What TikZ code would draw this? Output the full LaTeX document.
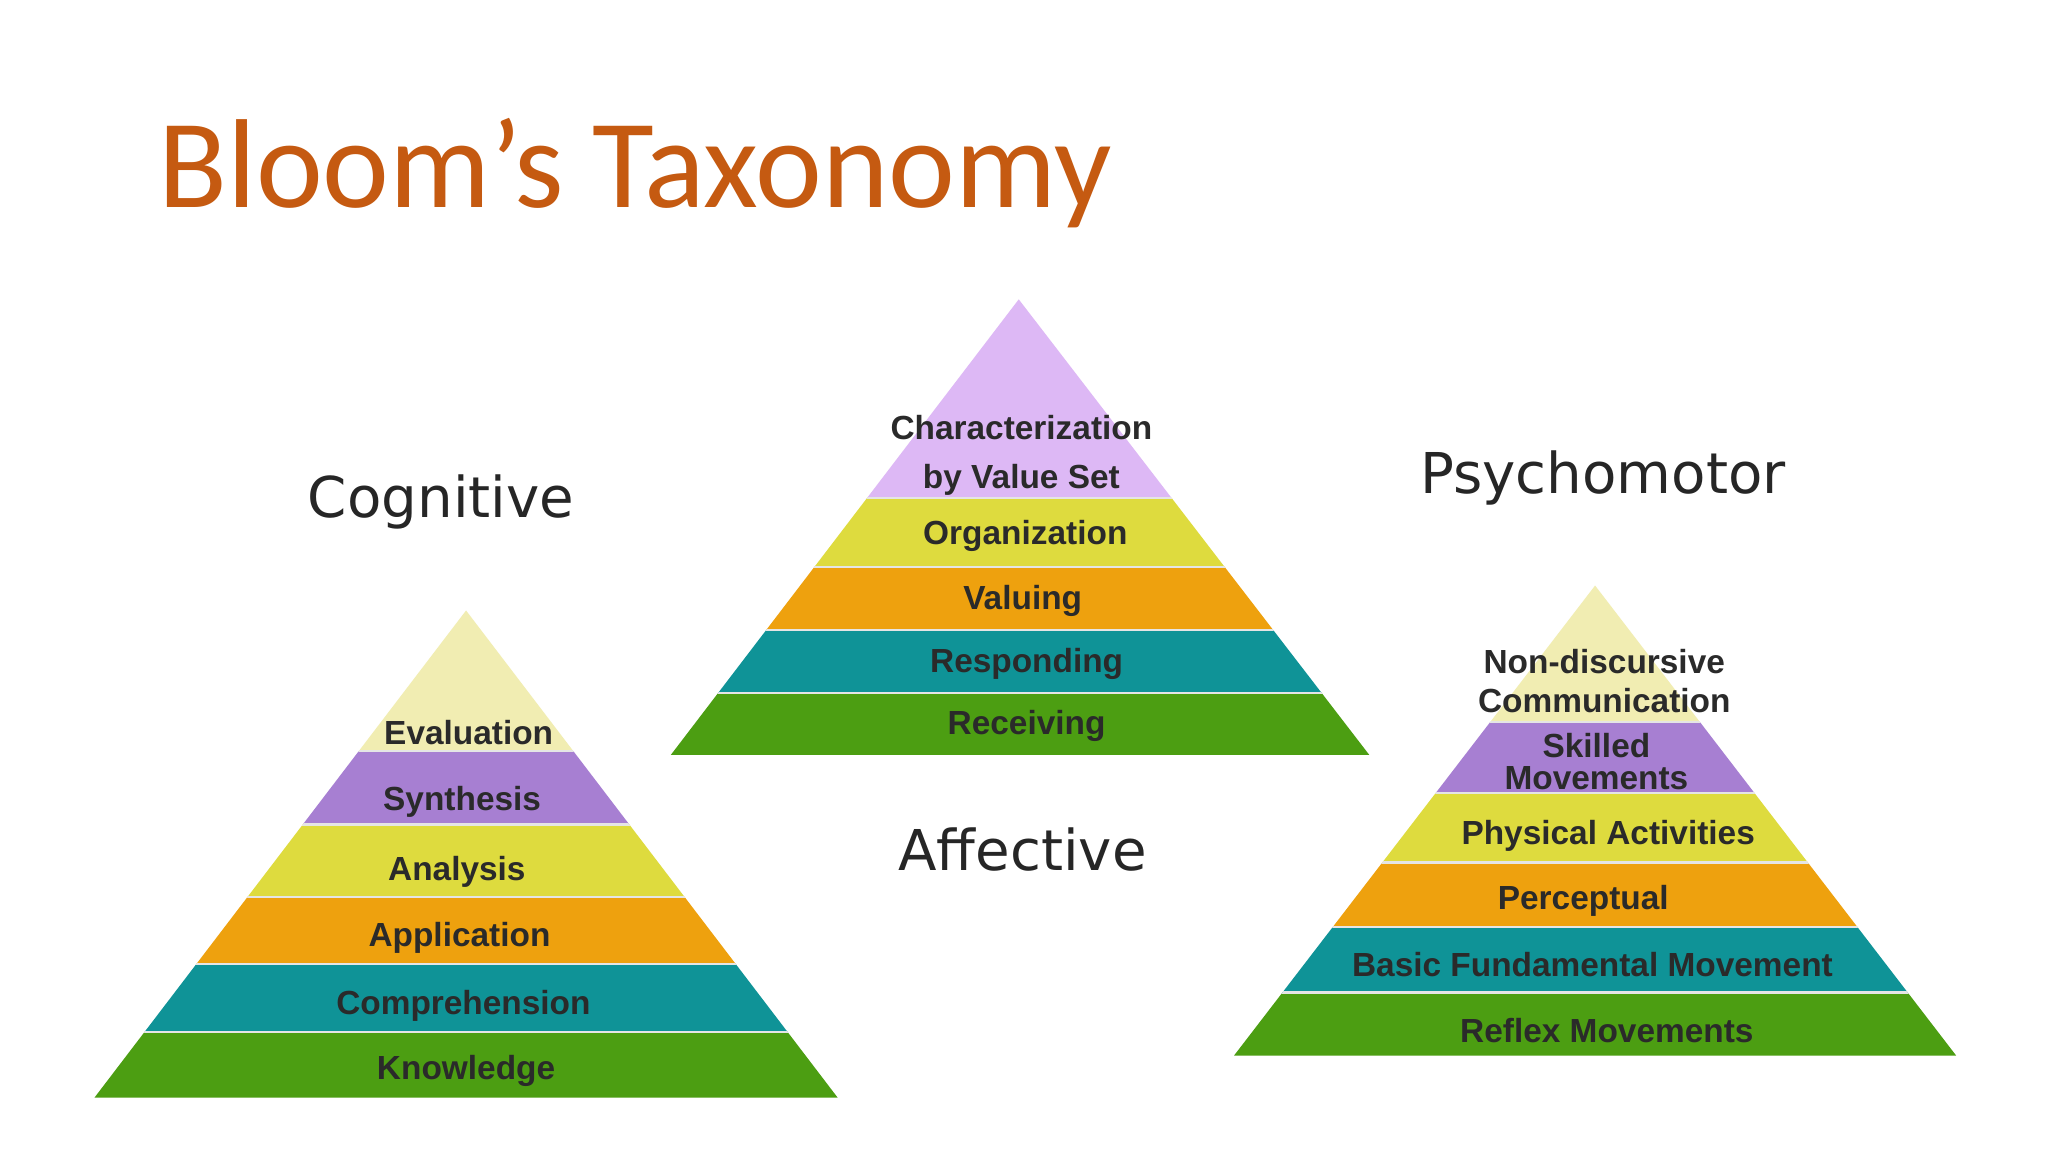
\documentclass[tikz,border=0pt]{standalone}
\usepackage{fontspec}
\setmainfont{Liberation Sans}
\newfontfamily\titlefont{Carlito}
\newfontfamily\headfont{DejaVu Sans}
\definecolor{ttl}{HTML}{C55A11}
\definecolor{cpale}{HTML}{F1EDB2}
\definecolor{cpurp}{HTML}{A77FD2}
\definecolor{clav}{HTML}{DDB8F5}
\definecolor{cyel}{HTML}{DEDB3E}
\definecolor{corg}{HTML}{EEA10E}
\definecolor{cteal}{HTML}{0F9397}
\definecolor{cgrn}{HTML}{4C9E12}
\definecolor{ctxt}{HTML}{2A2A2A}
\tikzset{lbl/.style={font=\bfseries\fontsize{9.5}{10}\selectfont,text=ctxt,align=center,inner sep=0pt},
head/.style={font=\headfont\fontsize{16}{18}\selectfont,text=black!85,inner sep=0pt},
sep/.style={draw=white!80!gray,line width=0.6pt}}
\begin{document}
\begin{tikzpicture}[x=0.013128cm,y=-0.013128cm]
\useasboundingbox[fill=white] (0,0) rectangle (1560,877.5);
\node[anchor=base west,inner sep=0pt,font=\titlefont\fontsize{36}{40}\selectfont,text=ttl] (title) at (120,158) {Bloom’s Taxonomy};
\node[head] (hcog) at (336,382) {Cognitive};
\node[head] (haff) at (779,647) {Affective};
\node[head] (hpsy) at (1221,364) {Psychomotor};
% Cognitive
\begin{scope}
\clip (355,465)--(72,836)--(638,836)--cycle;
\fill[cpale] (0,460) rectangle (700,572);
\fill[cpurp] (0,572) rectangle (700,628);
\fill[cyel] (0,628) rectangle (700,683);
\fill[corg] (0,683) rectangle (700,734);
\fill[cteal] (0,734) rectangle (700,786);
\fill[cgrn] (0,786) rectangle (700,836);
\foreach \y in {572,628,683,734,786} \draw[sep] (0,\y)--(700,\y);
\end{scope}
\node[lbl] (c1) at (357,558) {Evaluation};
\node[lbl] (c2) at (352,611) {Synthesis};
\node[lbl] (c3) at (348,664) {Analysis};
\node[lbl] (c4) at (350,714) {Application};
\node[lbl] (c5) at (353,766) {Comprehension};
\node[lbl] (c6) at (355,816) {Knowledge};
% Affective
\begin{scope}
\clip (776,228)--(511,575)--(1043,575)--cycle;
\fill[clav] (500,220) rectangle (1050,379);
\fill[cyel] (500,379) rectangle (1050,432);
\fill[corg] (500,432) rectangle (1050,480);
\fill[cteal] (500,480) rectangle (1050,528);
\fill[cgrn] (500,528) rectangle (1050,575);
\foreach \y in {379,432,480,528} \draw[sep] (500,\y)--(1050,\y);
\end{scope}
\node[lbl] (a1) at (778,347) {Characterization\\[4pt]by Value Set};
\node[lbl] (a2) at (781,408) {Organization};
\node[lbl] (a3) at (779,458) {Valuing};
\node[lbl] (a4) at (782,506) {Responding};
\node[lbl] (a5) at (782,553) {Receiving};
% Psychomotor
\begin{scope}
\clip (1215,446)--(940,804)--(1490,804)--cycle;
\fill[cpale] (900,440) rectangle (1500,550);
\fill[cpurp] (900,550) rectangle (1500,604);
\fill[cyel] (900,604) rectangle (1500,657);
\fill[corg] (900,657) rectangle (1500,706);
\fill[cteal] (900,706) rectangle (1500,756);
\fill[cgrn] (900,756) rectangle (1500,804);
\foreach \y in {550,604,657,706,756} \draw[sep] (900,\y)--(1500,\y);
\end{scope}
\node[lbl] (p1) at (1222,519) {Non-discursive\\[1pt]Communication};
\node[lbl] (p2) at (1216,580) {Skilled\\[-1pt]Movements};
\node[lbl] (p3) at (1225,637) {Physical Activities};
\node[lbl] (p4) at (1206,686) {Perceptual};
\node[lbl] (p5) at (1213,735) {Basic Fundamental Movement};
\node[lbl] (p6) at (1224,785) {Reflex Movements};
\end{tikzpicture}
\end{document}
